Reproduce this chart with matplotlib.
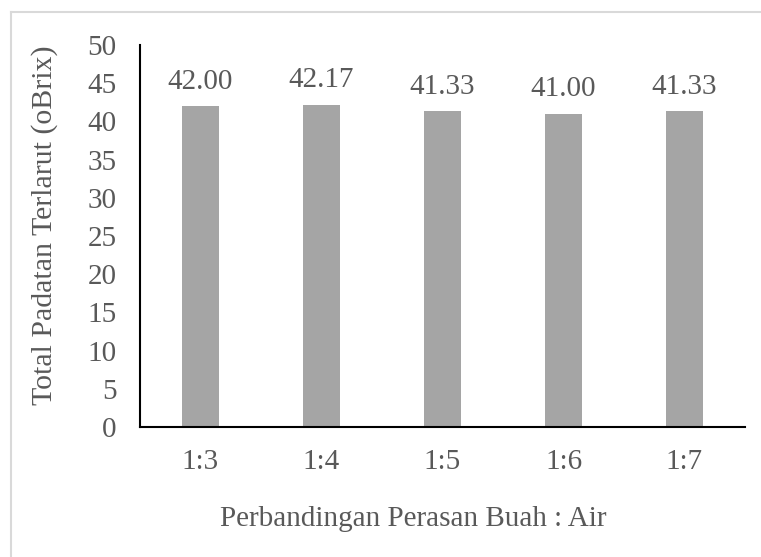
import matplotlib
matplotlib.use("Agg")
import matplotlib.pyplot as plt
from matplotlib.lines import Line2D

categories = ["1:3", "1:4", "1:5", "1:6", "1:7"]
values = [42.00, 42.17, 41.33, 41.00, 41.33]
labels = ["42.00", "42.17", "41.33", "41.00", "41.33"]
yticks = [0, 5, 10, 15, 20, 25, 30, 35, 40, 45, 50]

plt.rcParams['font.family'] = ['Liberation Serif', 'DejaVu Serif']
W, H = 761, 557
fig = plt.figure(figsize=(W/100, H/100), dpi=100)
ax = fig.add_axes([140/W, 1-427/H, 605/W, (427-45)/H])

txt = '#595959'
fs = 21
x = list(range(len(categories)))
ax.bar(x, values, width=0.31, color='#A5A5A5', zorder=2)
for xi, v, l in zip(x, values, labels):
    ax.text(xi, v + 1.5, l, ha='center', va='bottom', fontsize=fs, color=txt)

ax.set_xlim(-0.5, 4.5)
ax.set_ylim(0, 50)
ax.set_yticks(yticks)
ax.set_xticks(x)
ax.set_xticklabels(categories)
ax.tick_params(axis='both', length=0, labelsize=fs, colors=txt)
ax.tick_params(axis='y', pad=17)
ax.tick_params(axis='x', pad=16)
for s in ['top', 'right']:
    ax.spines[s].set_visible(False)
for s in ['left', 'bottom']:
    ax.spines[s].set_color('black')
    ax.spines[s].set_linewidth(1.5)

fig.text(45/W, 1-225/H, 'Total Padatan Terlarut (oBrix)', rotation=90,
         ha='center', va='center', fontsize=21.5, color=txt)
fig.text(413/W, 1-519/H, 'Perbandingan Perasan Buah : Air',
         ha='center', va='center', fontsize=fs, color=txt)

fig.add_artist(Line2D([10.5/W, 10.5/W], [0, 1-11.5/H], transform=fig.transFigure, color='#D9D9D9', lw=1.5))
fig.add_artist(Line2D([10.5/W, 1], [1-11.5/H, 1-11.5/H], transform=fig.transFigure, color='#D9D9D9', lw=1.5))

fig.savefig('out.png', dpi=100)
